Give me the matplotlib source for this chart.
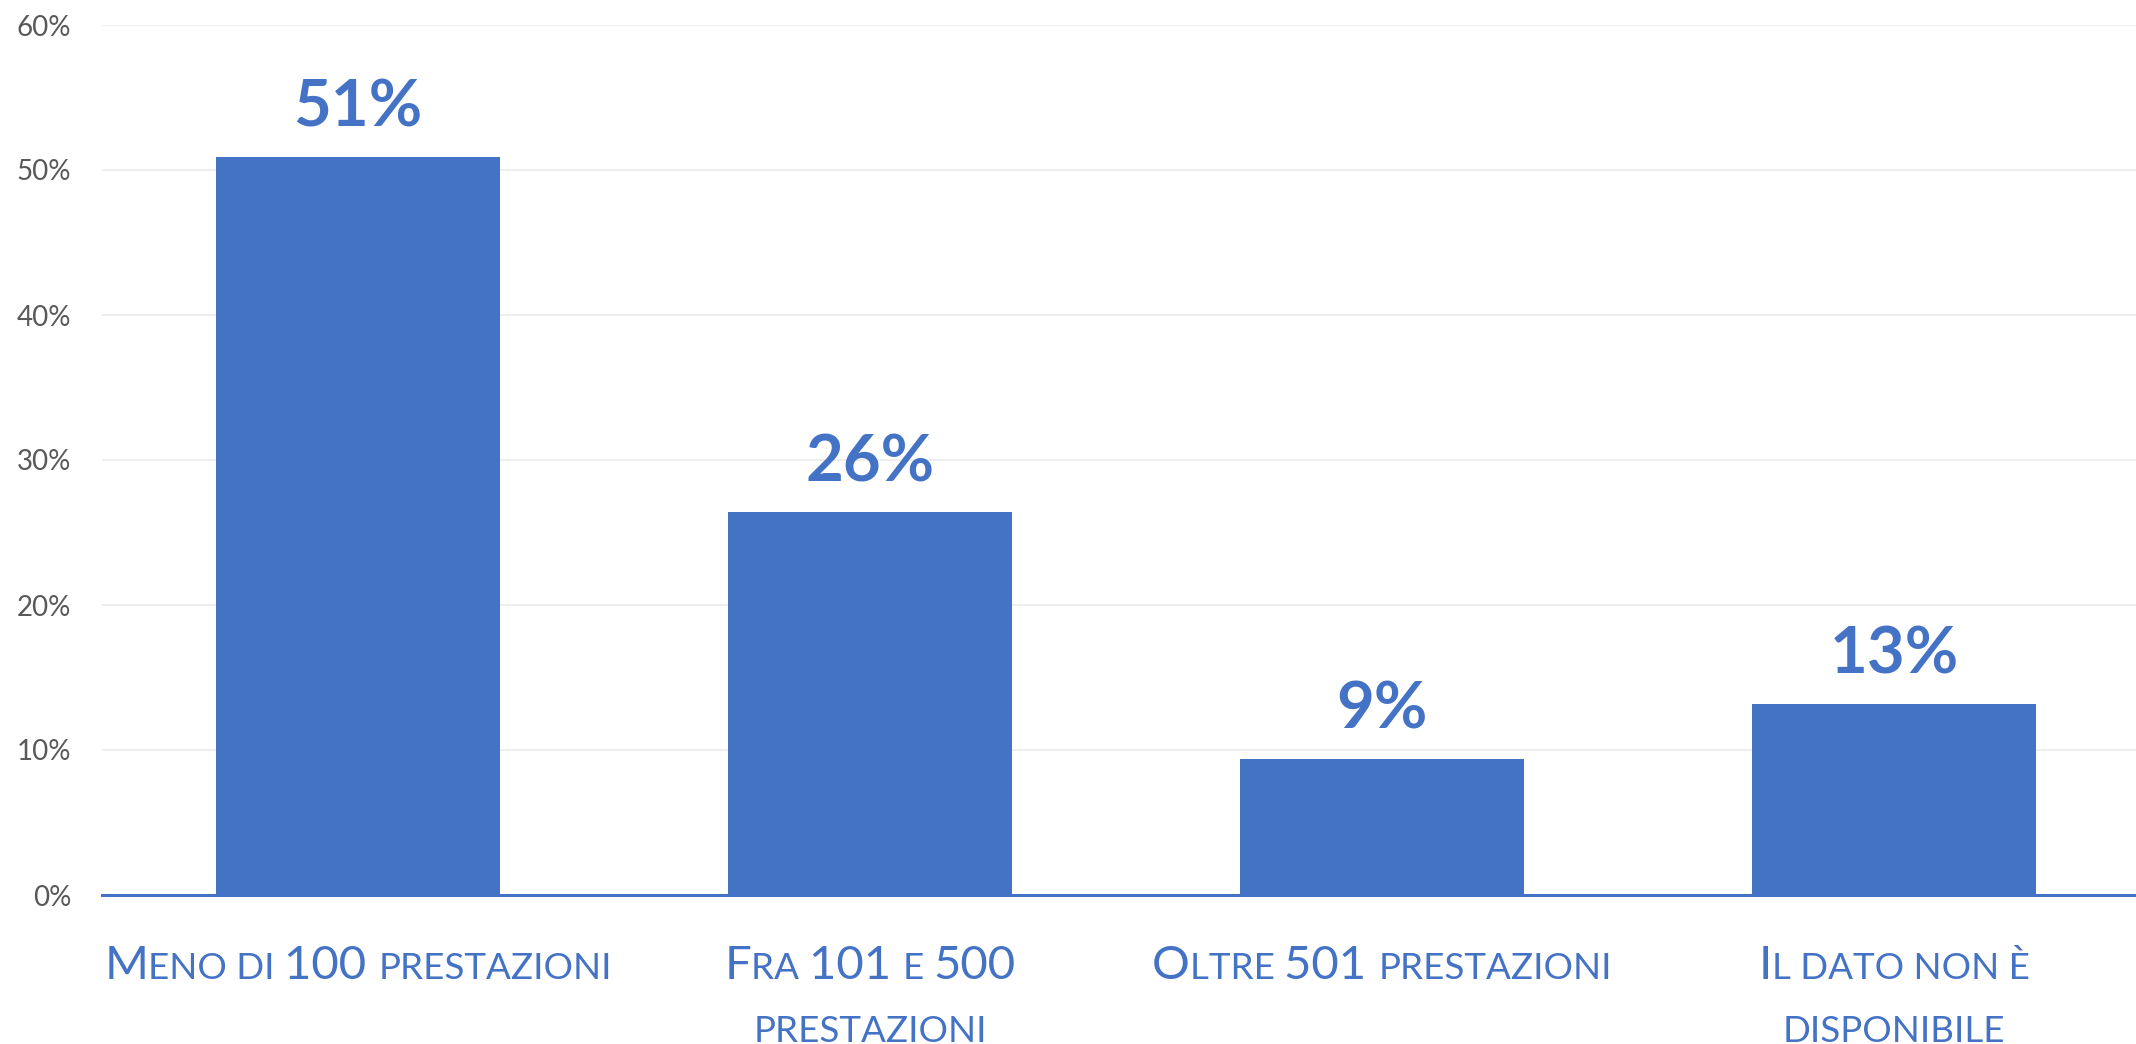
import matplotlib
matplotlib.use("Agg")
import matplotlib.pyplot as plt
from matplotlib.offsetbox import TextArea, HPacker, VPacker, AnnotationBbox
from matplotlib.ticker import FuncFormatter

# ---- data ----
categories = ["Meno di 100 prestazioni", "Fra 101 e 500 prestazioni",
              "Oltre 501 prestazioni", "Il dato non è disponibile"]
values = [0.509, 0.264, 0.094, 0.132]
value_labels = ["51%", "26%", "9%", "13%"]
y_ticks = [0.0, 0.1, 0.2, 0.3, 0.4, 0.5, 0.6]

# small-caps rendering pieces: (text, is_big) per line
label_lines = [
    [[("M", True), ("ENO DI ", False), ("100 ", True), ("PRESTAZIONI", False)]],
    [[("F", True), ("RA ", False), ("101 ", True), ("E ", False), ("500", True)],
     [("PRESTAZIONI", False)]],
    [[("O", True), ("LTRE ", False), ("501 ", True), ("PRESTAZIONI", False)]],
    [[("I", True), ("L DATO NON È", False)],
     [("DISPONIBILE", False)]],
]

BLUE = "#4472C4"
FONT = "Lato"

fig = plt.figure(figsize=(21.36, 10.44), dpi=100)
ax = fig.add_axes([102 / 2136, 149 / 1044, 2048 / 2136, 870 / 1044])

x = list(range(len(categories)))
ax.bar(x, values, width=0.555, color=BLUE, zorder=2)
ax.set_xlim(-0.5, 3.5)
ax.set_ylim(0, 0.6)

ax.set_yticks(y_ticks)
ax.yaxis.set_major_formatter(FuncFormatter(lambda v, p: f"{round(v*100)}%"))
ax.tick_params(axis="y", length=0, pad=22, labelsize=20, labelcolor="#595959")
for lab in ax.get_yticklabels():
    lab.set_fontfamily(FONT)
ax.set_xticks([])
ax.grid(axis="y", color="#EBEBEB", linewidth=1.2, zorder=0)
ax.set_axisbelow(True)
for s in ax.spines.values():
    s.set_visible(False)
ax.axhline(0, color=BLUE, linewidth=2.2, zorder=3, clip_on=False)

# value labels
for xi, v, t in zip(x, values, value_labels):
    ax.annotate(t, xy=(xi, v), xytext=(0, 22), textcoords="offset points",
                ha="center", va="baseline", fontsize=47, fontweight="bold",
                color=BLUE, fontfamily=FONT)

# category labels (small caps emulation)
BIG, SMALL = 34, 26.5
for xi, lines in zip(x, label_lines):
    rows = []
    for line in lines:
        parts = [TextArea(s, textprops=dict(color=BLUE, fontfamily=FONT,
                                            fontsize=BIG if big else SMALL))
                 for s, big in line]
        rows.append(HPacker(children=parts, align="baseline", pad=0, sep=0))
    box = VPacker(children=rows, align="center", pad=0, sep=20)
    ab = AnnotationBbox(box, xy=(xi, 0), xycoords=("data", "axes fraction"),
                        xybox=(0, -36), boxcoords="offset points",
                        box_alignment=(0.5, 1.0), frameon=False, pad=0,
                        annotation_clip=False)
    ax.add_artist(ab)

fig.savefig("out.png", dpi=100)
